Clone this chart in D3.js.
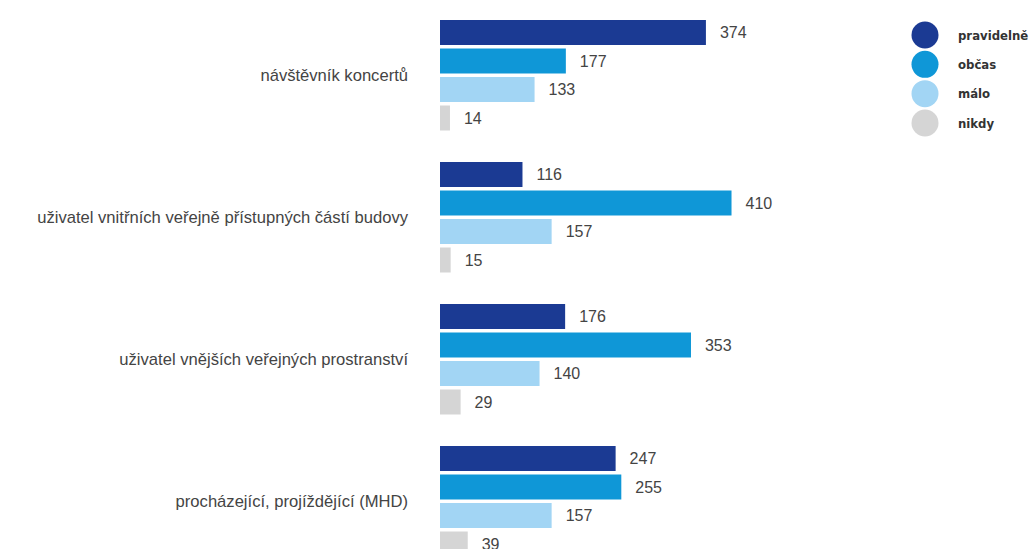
<!DOCTYPE html>
<html>
<head>
<meta charset="utf-8">
<script src="https://cdn.jsdelivr.net/npm/d3@7"></script>
<style>
  html, body { margin: 0; padding: 0; background: #fff; }
  svg { display: block; }
</style>
</head>
<body>
<svg id="chart" width="1030" height="549"></svg>
<script>
const categories = [
  "návštěvník koncertů",
  "uživatel vnitřních veřejně přístupných částí budovy",
  "uživatel vnějších veřejných prostranství",
  "procházející, projíždějící (MHD)"
];
const seriesNames = ["pravidelně", "občas", "málo", "nikdy"];
const pravidelne = [374, 116, 176, 247];
const obcas = [177, 410, 353, 255];
const malo = [133, 157, 140, 157];
const nikdy = [14, 15, 29, 39];
const seriesColors = ["#1b3a93", "#0f97d7", "#a2d5f4", "#d5d5d5"];

const seriesValues = [pravidelne, obcas, malo, nikdy];

const svg = d3.select("#chart");

const x = d3.scaleLinear().domain([0, 500]).range([440, 795.5]);
const y0 = d3.scaleBand().domain(categories).range([20, 20 + 142 * categories.length]).paddingInner(0);
const y1 = d3.scaleBand().domain(seriesNames).range([0, 110.5]).paddingInner(0.123);
const color = d3.scaleOrdinal().domain(seriesNames).range(seriesColors);

const rows = categories.map((c, i) => ({
  cat: c,
  vals: seriesNames.map((s, j) => ({ s, v: seriesValues[j][i] }))
}));

const g = svg.selectAll("g.grp").data(rows).join("g")
  .attr("class", "grp")
  .attr("transform", d => `translate(0,${y0(d.cat)})`);

g.selectAll("rect").data(d => d.vals).join("rect")
  .attr("x", x(0))
  .attr("y", d => y1(d.s))
  .attr("width", d => x(d.v) - x(0))
  .attr("height", y1.bandwidth())
  .attr("fill", d => color(d.s));

g.selectAll("text.val").data(d => d.vals).join("text")
  .attr("class", "val")
  .attr("x", d => x(d.v) + 14)
  .attr("y", d => y1(d.s) + y1.bandwidth() / 2)
  .attr("dy", "0.36em")
  .attr("font-family", "Liberation Sans, Arial, sans-serif")
  .attr("font-size", 16)
  .attr("fill", "#444")
  .text(d => d.v);

g.append("text")
  .attr("class", "cat")
  .attr("x", 408)
  .attr("y", 110.5 / 2)
  .attr("dy", "0.36em")
  .attr("text-anchor", "end")
  .attr("font-family", "Liberation Sans, Arial, sans-serif")
  .attr("font-size", 16.6)
  .attr("fill", "#444")
  .text(d => d.cat);

// legend
const ly = d3.scalePoint().domain(seriesNames).range([35, 123]);
const lg = svg.append("g").selectAll("g").data(seriesNames).join("g")
  .attr("transform", d => `translate(925,${ly(d)})`);
lg.append("circle").attr("r", 13.5).attr("fill", d => color(d));
lg.append("text")
  .attr("x", 33)
  .attr("dy", "0.36em")
  .attr("font-family", "DejaVu Sans Condensed, DejaVu Sans, sans-serif")
  .attr("font-stretch", "condensed")
  .attr("font-weight", "bold")
  .attr("font-size", 13)
  .attr("fill", "#333")
  .text(d => d);
</script>
</body>
</html>
